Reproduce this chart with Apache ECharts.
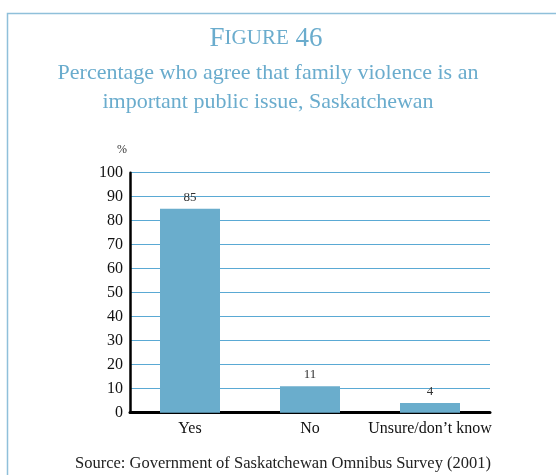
<!DOCTYPE html>
<html><head><meta charset="utf-8">
<script src="https://cdn.jsdelivr.net/npm/echarts@6/dist/echarts.min.js"></script>
<style>html,body{margin:0;padding:0;background:#fff;}#c{width:556px;height:475px;}</style>
</head><body><div id="c"></div>
<script>
const categories = ['Yes', 'No', 'Unsure/don\u2019t know'];
const values = [85, 11, 4];
const yTicks = [0, 10, 20, 30, 40, 50, 60, 70, 80, 90, 100];

const blue = '#6aadcc';
const titleBlue = '#6aaccd';
const serif = '"Liberation Serif", "Times New Roman", serif';

const chart = echarts.init(document.getElementById('c'), null, {renderer: 'canvas'});
chart.setOption({
  animation: false,
  backgroundColor: '#fff',
  graphic: [
    {type: 'rect', shape: {x: 7.5, y: 13.5, width: 700, height: 600}, style: {fill: 'none', stroke: '#8fc0da', lineWidth: 1.5}, silent: true},
    {type: 'text', x: 266, y: 25, style: {
      text: '{a|F}{b|IGURE}{a| 46}', align: 'center',
      rich: {a: {fontFamily: serif, fontSize: 27, fill: titleBlue}, b: {fontFamily: serif, fontSize: 21, fill: titleBlue}}
    }, silent: true}
  ],
  title: [
    {text: 'Percentage who agree that family violence is an\nimportant public issue, Saskatchewan', left: 263, top: 54, textAlign: 'center',
     textStyle: {fontFamily: serif, fontSize: 22, fontWeight: 'normal', color: titleBlue, lineHeight: 29}},
    {text: '%', left: 117, top: 139, textAlign: 'center', textStyle: {fontFamily: serif, fontSize: 12, fontWeight: 'normal', color: '#333'}},
    {text: 'Source: Government of Saskatchewan Omnibus Survey (2001)', left: 278, top: 450, textAlign: 'center',
     textStyle: {fontFamily: serif, fontSize: 16.5, fontWeight: 'normal', color: '#222'}}
  ],
  grid: {left: 130, right: 66, top: 172.7, bottom: 62.3, containLabel: false},
  xAxis: {
    type: 'category', data: categories,
    axisLine: {lineStyle: {color: '#000', width: 3}},
    axisTick: {inside: true, length: 6, lineStyle: {color: '#000', width: 2.5}},
    axisLabel: {fontFamily: serif, fontSize: 16, color: '#111', margin: 8, interval: 0}
  },
  yAxis: {
    type: 'value', min: yTicks[0], max: yTicks[yTicks.length - 1], interval: 10,
    axisLine: {show: true, lineStyle: {color: '#000', width: 2.5}},
    axisTick: {show: false},
    axisLabel: {fontFamily: serif, fontSize: 16, color: '#111', margin: 7},
    splitLine: {lineStyle: {color: '#5aa9d4', width: 1}}
  },
  series: [{
    type: 'bar', data: values, barWidth: '50%',
    itemStyle: {color: blue},
    label: {show: true, position: 'top', distance: 5, fontFamily: serif, fontSize: 13, color: '#333'}
  }]
});
</script></body></html>
